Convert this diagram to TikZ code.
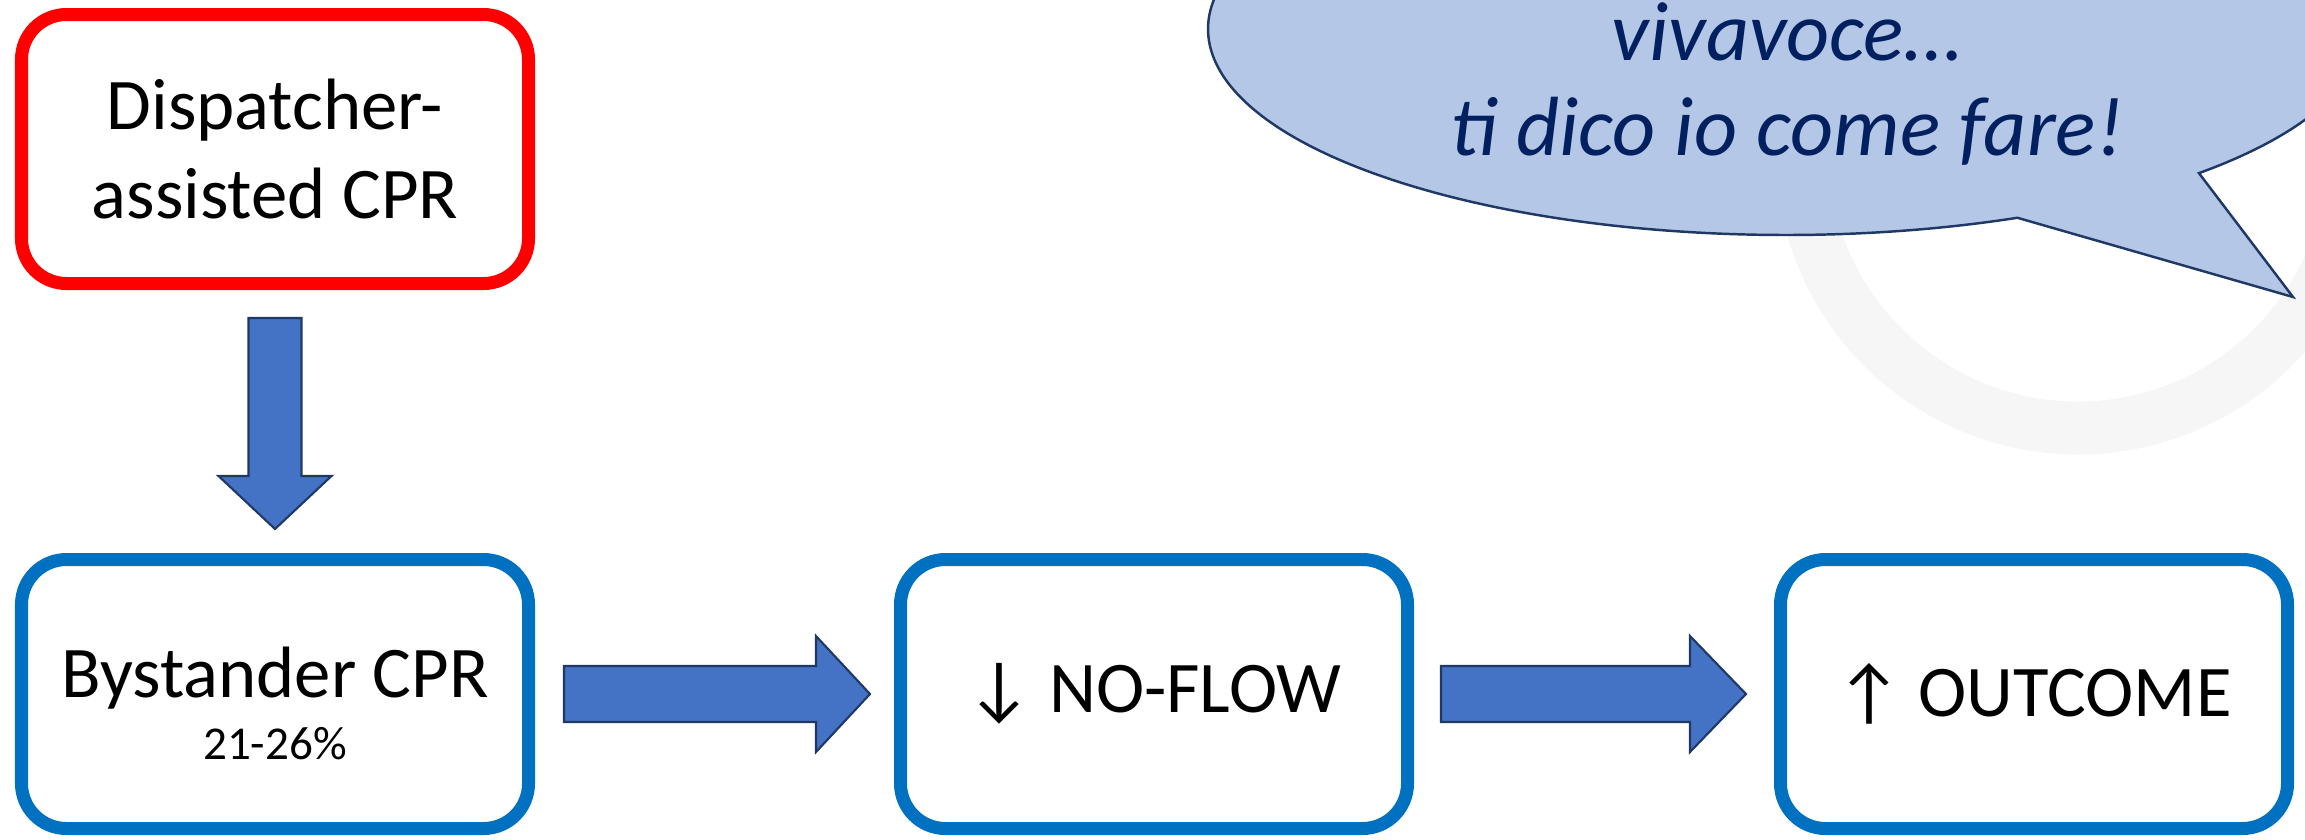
\documentclass[tikz,border=0pt]{standalone}
\usepackage{fontspec}
\setmainfont{Carlito}
\usetikzlibrary{calc, positioning}
\definecolor{cprblue}{RGB}{0,112,192}
\definecolor{arrowblue}{RGB}{68,114,196}
\definecolor{arrowline}{RGB}{31,56,100}
\definecolor{bubblefill}{RGB}{180,199,231}
\definecolor{bubbleline}{RGB}{32,56,100}
\definecolor{bubbletext}{RGB}{0,32,96}
\definecolor{faintgray}{RGB}{246,246,246}

\begin{document}
\begin{tikzpicture}[
                cpr box/.style={draw=cprblue, line width=3.7pt, rounded corners=0.45cm,
                    minimum width=5.07cm, minimum height=2.69cm, align=center, inner sep=0pt,
                    font=\fontsize{20.7}{25.6}\selectfont},
                block arrow/.style={draw=arrowline, fill=arrowblue, line width=0.6pt, line join=miter},
                bubble text/.style={text=bubbletext, font=\fontsize{23.9}{26}\selectfont\itshape}]
                \useasboundingbox (0,0) rectangle (23.05,-8.39);
                \clip (0,0) rectangle (23.05,-8.39);

                % faint ring behind the bubble
                \draw[faintgray, line width=0.53cm] (20.78,-1.52) ++(190:2.76) arc[start angle=190, end angle=350, radius=2.76];

                % speech bubble with its tail
                \draw[fill=bubblefill, draw=bubbleline, line width=0.7pt] (17.86,-0.29) ++(-44.4:5.78 and 2.06)
                    arc[start angle=-44.4, end angle=293.6, x radius=5.78, y radius=2.06] -- (22.93,-2.97) -- cycle;
                \node[bubble text, anchor=base] (voce) at (17.87,-0.60) {vivavoce…};
                \node[bubble text, anchor=base] (fare) at (17.87,-1.55) {ti dico io come fare!};

                % boxes - bottom row first, then the red one above
                \node[cpr box] (byst) at (2.75,-6.94) {\rule{0pt}{19.5pt}Bystander CPR\\[-8pt]{\fontsize{13.4}{15}\selectfont 21-26\%}};
                \node[cpr box, right=3.59cm of byst] (flow) {↓ NO-FLOW};
                \node[cpr box, right=3.60cm of flow] (outc) {↑ OUTCOME};
                \node[cpr box, draw=red, above=2.63cm of byst] (disp) {Dispatcher-\\assisted CPR};

                % block arrows between the boxes
                \draw[block arrow] ($(disp.south)+(-0.265,-0.28)$) -- ++(0,-1.58) -- ++(-0.30,0)
                    -- ($(byst.north)+(0,0.24)$) -- ++(0.565,0.53) -- ++(-0.30,0) -- ++(0,1.58) -- cycle;
                \draw[block arrow] ($(byst.east)+(0.29,0.28)$) -- ++(2.52,0) -- ++(0,0.30)
                    -- ($(flow.west)+(-0.24,0)$) -- ++(-0.54,-0.58) -- ++(0,0.30) -- ++(-2.52,0) -- cycle;
                \draw[block arrow] ($(flow.east)+(0.27,0.28)$) -- ++(2.49,0) -- ++(0,0.30)
                    -- ($(outc.west)+(-0.28,0)$) -- ++(-0.56,-0.58) -- ++(0,0.30) -- ++(-2.49,0) -- cycle;
            \end{tikzpicture}
\end{document}
